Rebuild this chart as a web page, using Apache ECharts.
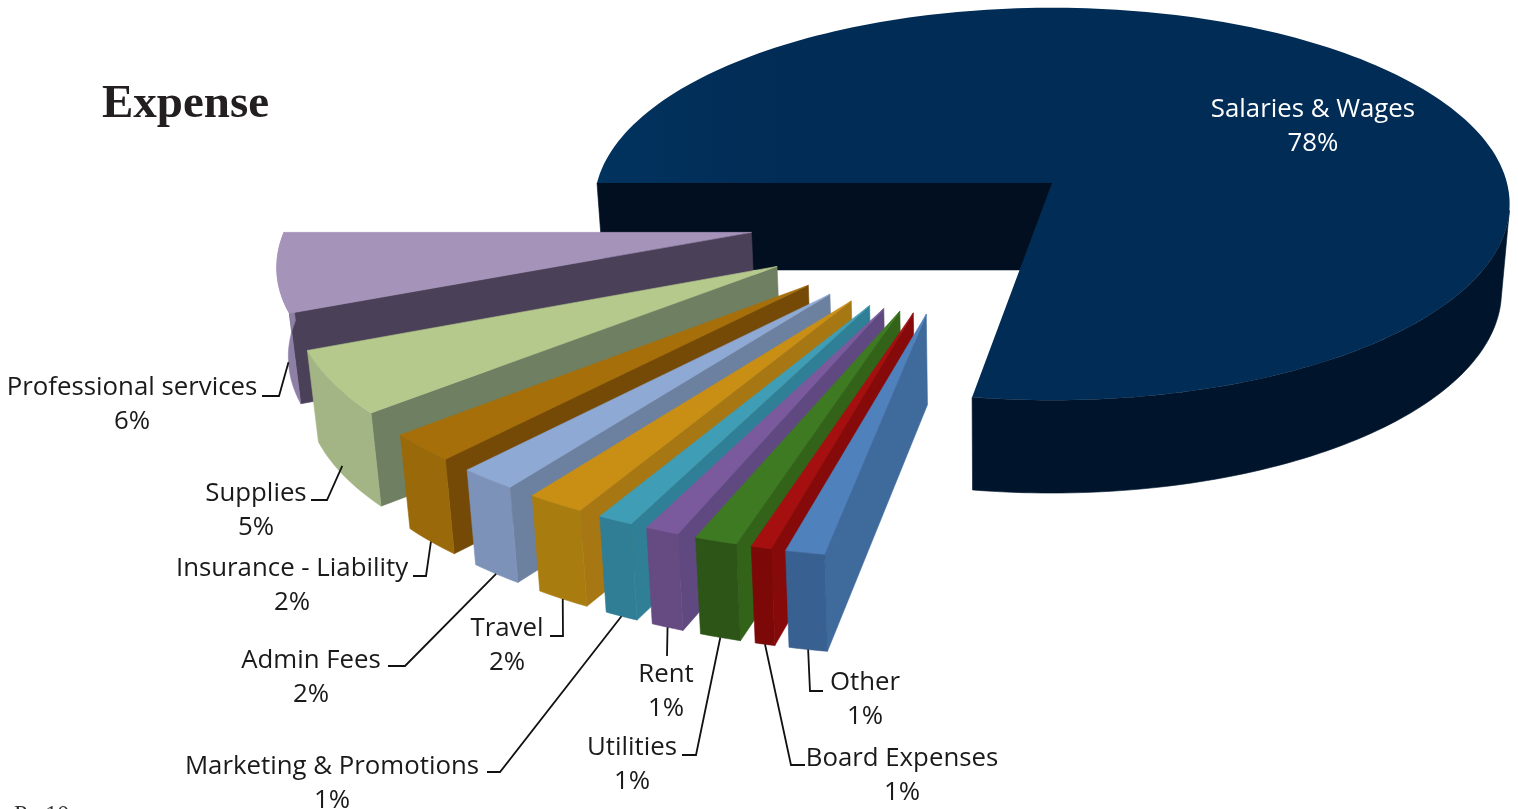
<!DOCTYPE html>
<html><head><meta charset="utf-8">
<style>html,body{margin:0;padding:0;background:#fff;overflow:hidden}#c{width:1518px;height:809px}</style>
<script src="https://cdn.jsdelivr.net/npm/echarts@6/dist/echarts.min.js"></script>
</head><body><div id="c"></div>
<script>
// ---- data ----
const categories = ['Salaries & Wages','Professional services','Supplies','Insurance - Liability','Admin Fees','Travel','Marketing & Promotions','Rent','Utilities','Board Expenses','Other'];
const shares = [77.51, 6.39, 5.1, 2.25, 1.8, 1.78, 1.08, 1.03, 1.28, 0.61, 1.17];

// ---- styles ----
const topColors   = ['#012c55','#a593ba','#b5c98d','#a66f0a','#8fa9d5','#c98f14','#3f9db5','#7a5a9c','#3e7a22','#a50f10','#4f81bd'];
const outerColors = ['#00142b','#8d7fa6','#a3b585','#9a6a0a','#7d92b8','#a97c10','#2f7e96','#664a82','#2d5518','#7d0808','#386090'];
const sideColors  = ['#010f20','#4a4058','#6e7f62','#744a06','#6c80a0','#a67712','#2f8097','#604880','#326319','#860a0a','#3e6a9c'];

// ---- label layout ----
const labelCenter = [[1313,110],[132,388],[256,494],[292,569],[311,661],[507,629],[332,767],[666,675],[632,748],[902,759],[865,683]];
const labelElbow  = [null,[[262,396],[279,396]],[[311,500],[327,500]],[[413,576],[426,576]],[[388,666],[405,666]],[[550,636],[563,636]],[[487,772],[500,772]],[[667,656]],[[682,755],[696,755]],[[805,765],[791,765]],[[823,691],[810,691]]];
const leadDepth   = [0,1,0.9,1,1,1,1,1,1,1,1];

// ---- scene ----
const CX=1052, CY=183, RX=455, KY=194, PERSP=0.107;
const SHIFT_U=-0.163, SHIFT_V=0.15, EXPLODE_U=0.49, EXPLODE_V=0.49, WEDGE_V=0.97;
const VX=1000;
const rad=d=>d*Math.PI/180;
function project(u,v){const f=1/(1-PERSP*v);return [CX+RX*u*f,CY+KY*v*f];}
function drop(p){return [p[0]+(VX-p[0])*0.016,p[1]+82+0.027*p[1]];}

const total=shares.reduce((a,b)=>a+b,0);
const startAngle=[],endAngle=[];
(function(){let a=180-shares[0]/total*360;shares.forEach((s,i)=>{startAngle[i]=a;a+=s/total*360;endAngle[i]=a;});})();

function geom(i){
  const mid=rad((startAngle[i]+endAngle[i])/2);
  const o=i===0?[0,0]:[SHIFT_U+EXPLODE_U*Math.cos(mid),SHIFT_V-EXPLODE_V*Math.sin(mid)];
  const kv=i===0?1:WEDGE_V;
  const at=a=>project(o[0]+Math.cos(rad(a)),o[1]-kv*Math.sin(rad(a)));
  return {apex:project(o[0],o[1]),at};
}
function arc(at,a,b,n){const r=[];for(let k=0;k<=n;k++)r.push(at(a+(b-a)*k/n));return r;}
function poly(points,fill){return {type:'polygon',shape:{points},style:{fill,stroke:fill,lineWidth:0.6}};}

function renderItem(params,api){
  const i=api.value(0), g=geom(i), a0=startAngle[i], a1=endAngle[i], kids=[];
  const n=Math.max(8,Math.round((a1-a0)/1.5));
  if(i===0){
    const left=g.at(a1);
    kids.push(poly([left,g.apex,drop(g.apex),drop(left)],sideColors[0]));
    const front=arc(g.at,a0,-8,80);
    kids.push(poly(front.concat(front.map(drop).reverse()),outerColors[0]));
    kids.push({type:'polygon',shape:{points:[g.apex].concat(arc(g.at,a0,a1,200))},
      style:{fill:new echarts.graphic.LinearGradient(0,0,1,0,[{offset:0,color:'#01335f'},{offset:0.2,color:'#012c55'},{offset:1,color:'#012c55'}])}});
  } else {
    const outer=arc(g.at,a0,a1,n), last=g.at(a1);
    kids.push(poly([g.apex,last,drop(last),drop(g.apex)],sideColors[i]));
    kids.push(poly(outer.concat(outer.map(drop).reverse()),outerColors[i]));
    kids.push(poly([g.apex].concat(outer),topColors[i]));
  }
  const c=labelCenter[i], pct=Math.round(shares[i]/total*100)+'%';
  const color=i===0?'#ffffff':'#1a1a1a';
  [categories[i],pct].forEach((t,k)=>kids.push({type:'text',style:{x:c[0],y:c[1]+k*33.5,text:t,fill:color,font:'25.8px "Open Sans"',align:'center',verticalAlign:'middle'},z2:50}));
  if(labelElbow[i]){
    const m=(a0+a1)/2, t=g.at(m), b=drop(t), d=leadDepth[i];
    const end=[t[0]+(b[0]-t[0])*d,t[1]+(b[1]-t[1])*d];
    kids.push({type:'polyline',shape:{points:labelElbow[i].concat([end])},style:{stroke:'#111',lineWidth:1.8,fill:'none'},z2:40});
  }
  return {type:'group',children:kids};
}

const chart=echarts.init(document.getElementById('c'),null,{renderer:'canvas'});
chart.setOption({
  animation:false,
  backgroundColor:'#ffffff',
  title:{text:'Expense',left:97,top:76,textStyle:{fontFamily:'"Liberation Serif"',fontWeight:'bold',fontSize:47,color:'#231f20'}},
  graphic:[{type:'text',left:14,top:803,style:{text:'Pg 10',font:'24px "Liberation Serif"',fill:'#333'}}],
  series:[{type:'custom',coordinateSystem:'none',renderItem,clip:false,
    data:categories.map((n,i)=>({name:n,value:[i,shares[i]]}))}]
});
</script></body></html>
